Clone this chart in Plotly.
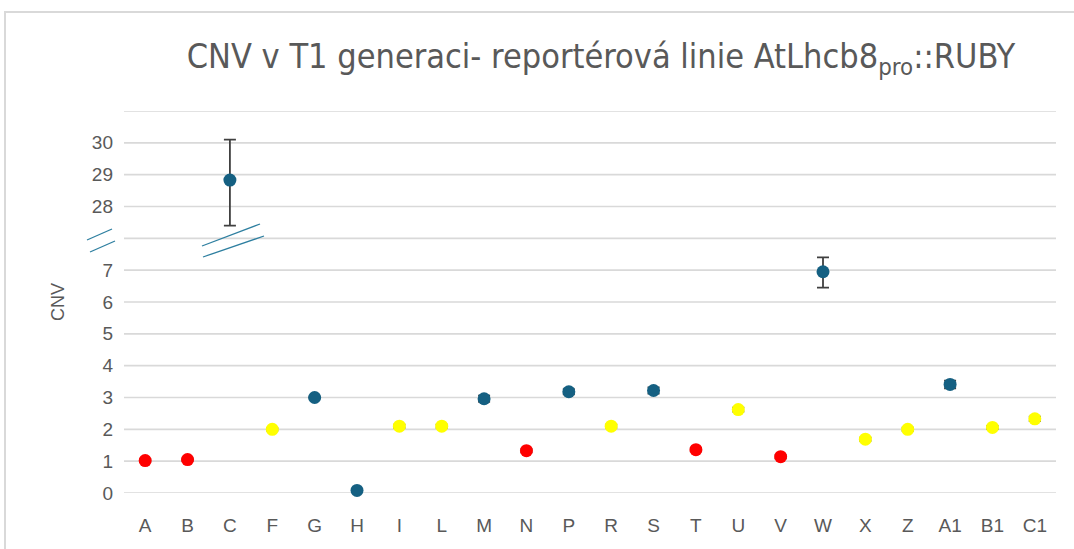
import plotly.graph_objects as go

categories = ["A", "B", "C", "F", "G", "H", "I", "L", "M", "N", "P", "R", "S",
              "T", "U", "V", "W", "X", "Z", "A1", "B1", "C1"]
cnv = [1.02, 1.05, 28.83, 2.0, 3.0, 0.08, 2.1, 2.1, 2.96, 1.33, 3.18, 2.1, 3.22,
       1.36, 2.62, 1.14, 6.95, 1.69, 2.0, 3.41, 2.06, 2.33]
err_plus = [0.04, 0.04, 1.27, 0.04, 0.03, 0.03, 0.05, 0.05, 0.1, 0.05, 0.08, 0.05, 0.1,
            0.05, 0.06, 0.05, 0.45, 0.05, 0.05, 0.12, 0.05, 0.07]
err_minus = [0.04, 0.04, 1.43, 0.04, 0.03, 0.03, 0.05, 0.05, 0.1, 0.05, 0.08, 0.05, 0.1,
             0.05, 0.06, 0.05, 0.5, 0.05, 0.05, 0.12, 0.05, 0.07]
groups = ["red", "red", "blue", "yellow", "blue", "blue", "yellow", "yellow", "blue", "red",
          "blue", "yellow", "blue", "red", "yellow", "red", "blue", "yellow", "yellow",
          "blue", "yellow", "yellow"]
ytick_values = [0, 1, 2, 3, 4, 5, 6, 7, 28, 29, 30]

palette = {"red": "#FF0000", "yellow": "#FFFF00", "blue": "#156082"}

# broken axis: values above the break are shifted down
BREAK_LOW, BREAK_HIGH = 8, 27
def axis_pos(v):
    return v if v <= BREAK_LOW else v - (BREAK_HIGH - BREAK_LOW)

ypos = [axis_pos(v) for v in cnv]

fig = go.Figure()
fig.add_trace(go.Scatter(
    x=categories, y=ypos, mode="markers",
    marker=dict(size=13, color=[palette[g] for g in groups]),
    error_y=dict(type="data", symmetric=False, array=err_plus, arrayminus=err_minus,
                 color="#404040", thickness=1.8, width=6),
    cliponaxis=False, showlegend=False,
    customdata=cnv, hovertemplate="%{x}: %{customdata}<extra></extra>",
))

PL, PR, PT, PB = 124, 18, 111, 56
W, H = 1074, 549
pw, ph = W - PL - PR, H - PT - PB

def px(xp):
    return (xp - PL) / pw
def py(yp):
    return (H - PB - yp) / ph

shapes = []
# outer chart border
shapes.append(dict(type="rect", xref="paper", yref="paper",
                   x0=px(5), x1=px(1080), y0=py(560), y1=py(12),
                   line=dict(color="#d9d9d9", width=2), fillcolor="rgba(0,0,0,0)", layer="below"))
# break marks
for (x0, y0, x1, y1) in [(87, 240, 112, 229), (90, 252, 115, 241),
                         (202, 246, 260, 224), (203, 257, 264, 236)]:
    shapes.append(dict(type="line", xref="paper", yref="paper",
                       x0=px(x0), y0=py(y0), x1=px(x1), y1=py(y1),
                       line=dict(color="#2e7fa0", width=1.3)))

fig.update_layout(
    width=W, height=H,
    margin=dict(l=PL, r=PR, t=PT, b=PB),
    paper_bgcolor="white", plot_bgcolor="white",
    font=dict(family="Liberation Sans, Arial, sans-serif", color="#595959"),
    title=dict(text="CNV v T1 generaci- reportérová linie AtLhcb8<sub>pro</sub>::RUBY",
               x=px(601), xref="paper", xanchor="center", y=1 - 56 / H, yanchor="middle",
               font=dict(family="DejaVu Sans Condensed, Liberation Sans, sans-serif",
                         size=34, color="#595959")),
    xaxis=dict(type="category", range=[-0.5, len(categories) - 0.5], showgrid=False,
               showline=False, ticks="", tickfont=dict(size=19, color="#595959"),
               ticklabelstandoff=19, fixedrange=True),
    yaxis=dict(range=[0, 12], tickmode="array",
               tickvals=[axis_pos(v) for v in ytick_values],
               ticktext=[str(v) for v in ytick_values],
               showgrid=False, zeroline=False, showline=False, ticks="",
               tickfont=dict(size=19, color="#595959"), ticklabelstandoff=10,
               title=dict(text="CNV", font=dict(size=18, color="#595959"), standoff=22)),
    shapes=shapes,
)
# gridlines at every unit of the axis (including the break line and top)
for g in range(0, 13):
    fig.add_hline(y=g, line=dict(color="#d9d9d9", width=1.6), layer="below")

fig.write_html("out.html", config={"displayModeBar": False},
               post_script="document.body.style.margin='0';")
